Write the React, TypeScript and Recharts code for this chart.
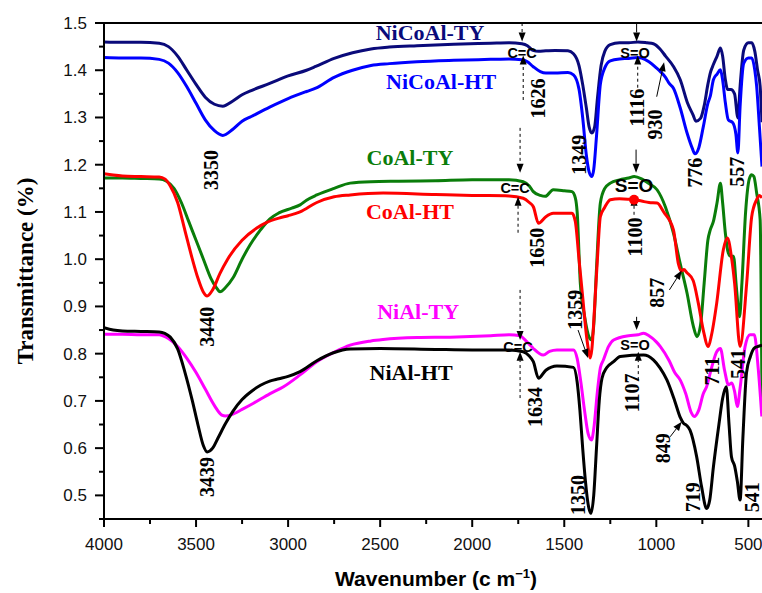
import React from 'react'
import { LineChart, Line, XAxis, YAxis, ReferenceLine, ReferenceDot, Label } from 'recharts'

const W = 762
const H = 593
const PLOT_LEFT = 104
const PLOT_BOTTOM = 519

const SANS = '"Liberation Sans", Arial, sans-serif'
const SERIF = '"Liberation Serif", "Times New Roman", serif'

// x ticks (cm-1), labels only on the 500 steps
const X_TICKS = [4000, 3750, 3500, 3250, 3000, 2750, 2500, 2250, 2000, 1750, 1500, 1250, 1000, 750, 500]
const Y_TICKS = [0.45, 0.5, 0.55, 0.6, 0.65, 0.7, 0.75, 0.8, 0.85, 0.9, 0.95, 1.0, 1.05, 1.1, 1.15, 1.2, 1.25, 1.3, 1.35, 1.4, 1.45, 1.5]

// spectra: [wavenumber, transmittance]
const NICOAL_TY: [number, number][] = [
  [4000, 1.46], [3900, 1.459], [3800, 1.459], [3700, 1.457], [3650, 1.45], [3600, 1.43], [3550, 1.4],
  [3500, 1.37], [3450, 1.343], [3400, 1.328], [3355, 1.324], [3300, 1.335], [3250, 1.348], [3200, 1.357],
  [3100, 1.372], [3000, 1.388], [2900, 1.4], [2850, 1.408], [2750, 1.425], [2650, 1.437], [2550, 1.445],
  [2450, 1.449], [2300, 1.452], [2100, 1.455], [1900, 1.457], [1800, 1.458], [1730, 1.456], [1700, 1.452],
  [1670, 1.442], [1640, 1.44], [1600, 1.441], [1550, 1.442], [1480, 1.441], [1450, 1.435], [1420, 1.41],
  [1400, 1.37], [1380, 1.32], [1365, 1.28], [1350, 1.267], [1335, 1.28], [1320, 1.34], [1300, 1.41],
  [1280, 1.44], [1250, 1.454], [1200, 1.458], [1150, 1.458], [1100, 1.46], [1050, 1.458], [1016, 1.456],
  [980, 1.445], [950, 1.43], [907, 1.408], [870, 1.38], [830, 1.33], [800, 1.305], [785, 1.292],
  [760, 1.298], [740, 1.325], [720, 1.37], [707, 1.394], [690, 1.412], [670, 1.43], [652, 1.447],
  [640, 1.43], [625, 1.38], [612, 1.359], [595, 1.359], [575, 1.35], [557, 1.299], [545, 1.366],
  [525, 1.443], [500, 1.458], [482, 1.458], [465, 1.44], [450, 1.40], [436, 1.366], [426, 1.29],
]

const NICOAL_HT: [number, number][] = [
  [4000, 1.427], [3900, 1.426], [3800, 1.426], [3700, 1.423], [3650, 1.415], [3600, 1.395], [3550, 1.365],
  [3500, 1.33], [3450, 1.295], [3400, 1.272], [3355, 1.262], [3300, 1.275], [3250, 1.292], [3200, 1.302],
  [3100, 1.322], [3000, 1.34], [2900, 1.355], [2850, 1.362], [2750, 1.385], [2650, 1.4], [2550, 1.41],
  [2450, 1.414], [2300, 1.418], [2100, 1.421], [1900, 1.423], [1800, 1.424], [1730, 1.422], [1700, 1.418],
  [1670, 1.408], [1630, 1.397], [1600, 1.394], [1550, 1.394], [1480, 1.395], [1450, 1.39], [1420, 1.36],
  [1400, 1.3], [1380, 1.22], [1365, 1.185], [1350, 1.175], [1340, 1.19], [1325, 1.26], [1304, 1.37],
  [1280, 1.405], [1250, 1.42], [1200, 1.424], [1150, 1.425], [1100, 1.427], [1080, 1.426], [1040, 1.418],
  [1000, 1.405], [978, 1.397], [950, 1.385], [930, 1.372], [907, 1.362], [870, 1.32], [833, 1.267],
  [805, 1.235], [790, 1.223], [770, 1.235], [745, 1.28], [720, 1.33], [707, 1.345], [690, 1.38],
  [670, 1.392], [652, 1.401], [640, 1.38], [625, 1.331], [609, 1.295], [585, 1.289], [568, 1.265],
  [557, 1.225], [545, 1.323], [525, 1.415], [500, 1.426], [482, 1.426], [465, 1.4], [455, 1.366],
  [440, 1.28], [426, 1.196],
]

const COAL_TY: [number, number][] = [
  [4000, 1.172], [3900, 1.172], [3800, 1.171], [3700, 1.17], [3660, 1.165], [3620, 1.15], [3580, 1.12],
  [3540, 1.08], [3500, 1.04], [3460, 1.0], [3420, 0.96], [3390, 0.94], [3370, 0.931], [3340, 0.94],
  [3300, 0.96], [3250, 1.0], [3207, 1.03], [3150, 1.062], [3100, 1.085], [3050, 1.098], [2980, 1.108],
  [2935, 1.115], [2900, 1.125], [2844, 1.136], [2750, 1.15], [2663, 1.161], [2550, 1.164], [2400, 1.165],
  [2200, 1.166], [2000, 1.168], [1800, 1.168], [1723, 1.164], [1690, 1.155], [1668, 1.143], [1630, 1.135],
  [1603, 1.133], [1560, 1.147], [1500, 1.145], [1458, 1.143], [1440, 1.13], [1430, 1.1], [1413, 0.95],
  [1390, 0.88], [1365, 0.835], [1351, 0.829], [1340, 0.86], [1325, 0.98], [1304, 1.119], [1280, 1.15],
  [1250, 1.161], [1200, 1.168], [1150, 1.172], [1120, 1.175], [1080, 1.17], [1040, 1.16], [996, 1.147],
  [950, 1.11], [907, 1.055], [870, 0.99], [833, 0.928], [800, 0.86], [779, 0.836], [760, 0.86],
  [740, 0.95], [720, 1.04], [707, 1.062], [690, 1.08], [670, 1.12], [652, 1.161], [640, 1.12],
  [625, 1.055], [609, 1.013], [595, 1.006], [581, 1.006], [565, 0.94], [548, 0.878], [535, 0.95],
  [515, 1.1], [495, 1.17], [482, 1.179], [470, 1.175], [455, 1.14], [436, 1.083], [430, 0.9], [426, 0.7],
]

const COAL_HT: [number, number][] = [
  [4000, 1.181], [3950, 1.178], [3900, 1.176], [3800, 1.175], [3700, 1.174], [3670, 1.17], [3640, 1.155],
  [3600, 1.12], [3560, 1.06], [3520, 1.0], [3490, 0.96], [3460, 0.93], [3440, 0.922], [3410, 0.935],
  [3370, 0.97], [3330, 0.999], [3250, 1.04], [3170, 1.066], [3116, 1.078], [3050, 1.087], [3000, 1.092],
  [2935, 1.1], [2844, 1.12], [2750, 1.132], [2663, 1.136], [2484, 1.14], [2200, 1.137], [2000, 1.135],
  [1800, 1.134], [1723, 1.129], [1690, 1.12], [1668, 1.111], [1640, 1.076], [1600, 1.09], [1560, 1.097],
  [1458, 1.097], [1440, 1.08], [1420, 1.0], [1400, 0.92], [1380, 0.84], [1365, 0.8], [1359, 0.791],
  [1350, 0.81], [1335, 0.9], [1320, 1.0], [1304, 1.09], [1280, 1.11], [1250, 1.126], [1200, 1.128],
  [1150, 1.127], [1120, 1.126], [1080, 1.123], [1040, 1.12], [996, 1.119], [960, 1.1], [907, 1.062],
  [880, 0.99], [865, 0.975], [850, 0.978], [835, 0.972], [800, 0.955], [772, 0.907], [745, 0.85],
  [718, 0.815], [700, 0.84], [672, 0.907], [636, 1.02], [614, 1.045], [590, 0.999], [575, 0.95],
  [545, 0.815], [509, 0.95], [482, 1.09], [455, 1.126], [440, 1.135], [426, 1.13],
]

const NIAL_TY: [number, number][] = [
  [4000, 0.841], [3900, 0.841], [3800, 0.84], [3700, 0.84], [3680, 0.838], [3650, 0.832], [3600, 0.815],
  [3550, 0.79], [3500, 0.76], [3450, 0.725], [3400, 0.69], [3360, 0.67], [3340, 0.668], [3300, 0.672],
  [3250, 0.682], [3188, 0.695], [3100, 0.715], [3025, 0.73], [2935, 0.755], [2844, 0.783], [2750, 0.803],
  [2663, 0.818], [2550, 0.827], [2484, 0.83], [2300, 0.834], [2120, 0.835], [1900, 0.838], [1800, 0.84],
  [1740, 0.838], [1723, 0.833], [1690, 0.82], [1668, 0.811], [1614, 0.797], [1580, 0.805], [1540, 0.808],
  [1450, 0.808], [1430, 0.79], [1410, 0.74], [1390, 0.68], [1370, 0.63], [1352, 0.617], [1340, 0.64],
  [1320, 0.72], [1304, 0.77], [1287, 0.787], [1260, 0.815], [1232, 0.829], [1150, 0.838], [1100, 0.84],
  [1069, 0.843], [1040, 0.838], [1000, 0.825], [978, 0.815], [930, 0.785], [900, 0.76], [870, 0.744],
  [840, 0.715], [810, 0.675], [795, 0.667], [770, 0.68], [745, 0.715], [727, 0.73], [700, 0.77],
  [672, 0.804], [652, 0.811], [630, 0.766], [608, 0.734], [590, 0.738], [575, 0.72], [560, 0.688],
  [545, 0.727], [518, 0.815], [491, 0.84], [468, 0.84], [446, 0.766], [427, 0.667],
]

const NIAL_HT: [number, number][] = [
  [4000, 0.855], [3950, 0.85], [3900, 0.848], [3800, 0.847], [3700, 0.846], [3670, 0.843], [3640, 0.835],
  [3600, 0.81], [3560, 0.76], [3520, 0.7], [3490, 0.65], [3460, 0.605], [3440, 0.592], [3410, 0.6],
  [3380, 0.622], [3340, 0.652], [3300, 0.678], [3250, 0.703], [3200, 0.72], [3150, 0.733], [3100, 0.742],
  [3050, 0.747], [3000, 0.752], [2935, 0.762], [2844, 0.785], [2754, 0.802], [2663, 0.81], [2500, 0.811],
  [2200, 0.809], [2000, 0.808], [1800, 0.808], [1723, 0.804], [1690, 0.795], [1668, 0.783], [1640, 0.748],
  [1600, 0.765], [1540, 0.774], [1450, 0.771], [1430, 0.74], [1415, 0.68], [1400, 0.6], [1385, 0.53],
  [1370, 0.48], [1355, 0.462], [1340, 0.5], [1325, 0.6], [1310, 0.7], [1295, 0.748], [1270, 0.77],
  [1232, 0.783], [1196, 0.794], [1069, 0.797], [1016, 0.787], [980, 0.77], [942, 0.744], [900, 0.7],
  [870, 0.665], [853, 0.653], [835, 0.648], [817, 0.638], [781, 0.582], [754, 0.518], [727, 0.472],
  [710, 0.49], [690, 0.56], [660, 0.65], [640, 0.705], [620, 0.73], [605, 0.65], [592, 0.582],
  [574, 0.561], [560, 0.53], [545, 0.49], [530, 0.62], [510, 0.76], [489, 0.794], [470, 0.811],
  [450, 0.815], [426, 0.818],
]

const SERIES = [
  { name: 'NiCoAl-TY', pts: NICOAL_TY, color: '#0a0a7a' },
  { name: 'NiCoAl-HT', pts: NICOAL_HT, color: '#0000ff' },
  { name: 'CoAl-TY', pts: COAL_TY, color: '#0a7d0a' },
  { name: 'CoAl-HT', pts: COAL_HT, color: '#ff0000' },
  { name: 'NiAl-TY', pts: NIAL_TY, color: '#ff00ff' },
  { name: 'NiAl-HT', pts: NIAL_HT, color: '#000000' },
]

// series name labels: [text, wavenumber, value, colour]
const NAME_LABELS: [string, number, number, string][] = [
  ['NiCoAl-TY', 2229, 1.479, '#0a0a7a'],
  ['NiCoAl-HT', 2169, 1.376, '#0000ff'],
  ['CoAl-TY', 2338, 1.215, '#0a7d0a'],
  ['CoAl-HT', 2338, 1.102, '#ff0000'],
  ['NiAl-TY', 2294, 0.89, '#ff00ff'],
  ['NiAl-HT', 2332, 0.761, '#000000'],
]

// peak positions written vertically
const PEAK_LABELS: [string, number, number][] = [
  ['3350', 3420, 1.189], ['3440', 3440, 0.857], ['3439', 3440, 0.539],
  ['1626', 1642, 1.34], ['1349', 1420, 1.221], ['1116', 1105, 1.321], ['930', 1007, 1.285],
  ['776', 790, 1.183], ['557', 561, 1.185], ['1650', 1648, 1.024], ['1100', 1116, 1.047],
  ['857', 996, 0.929], ['1359', 1441, 0.893], ['711', 697, 0.763], ['541', 556, 0.778],
  ['1634', 1659, 0.687], ['1107', 1132, 0.717], ['849', 963, 0.6], ['1350', 1425, 0.501],
  ['719', 800, 0.496], ['541', 480, 0.496],
]

// bond labels: [text, wavenumber, value, fontSize]
const BOND_LABELS: [string, number, number, number][] = [
  ['C=C', 1729, 1.437, 14.5], ['S=O', 1116, 1.437, 14.5],
  ['C=C', 1767, 1.151, 14.5], ['S=O', 1121, 1.157, 19],
  ['C=C', 1751, 0.814, 14.5], ['S=O', 1116, 0.818, 14.5],
]

// arrows: [tail w, tail v, tip w, tip v, dashed]
const ARROWS: [number, number, number, number, boolean][] = [
  [1729, 1.5, 1729, 1.461, true], [1723, 1.337, 1723, 1.431, true],
  [1740, 1.278, 1740, 1.183, true], [1751, 1.056, 1751, 1.132, true],
  [1740, 0.935, 1740, 0.829, true], [1740, 0.706, 1740, 0.804, true],
  [1107, 1.5, 1107, 1.461, false], [1101, 1.363, 1101, 1.431, true],
  [1110, 1.232, 1110, 1.183, false], [1121, 1.094, 1121, 1.132, true],
  [1107, 0.878, 1107, 0.85, false], [1098, 0.744, 1098, 0.804, true],
  [998, 1.344, 958, 1.417, false], [929, 0.935, 862, 0.976, false],
  [925, 0.624, 862, 0.656, false], [1425, 0.85, 1371, 0.791, false],
]

const toPts = (a: [number, number][]) => a.map(([w, v]) => ({ w, v }))

const XTick = (props: any) => {
  const { x, payload } = props
  const major = payload.value % 500 === 0
  return (
    <g>
      <line x1={x} y1={PLOT_BOTTOM} x2={x} y2={PLOT_BOTTOM + (major ? 8 : 5)} stroke="#000" strokeWidth={2} />
      {major && (
        <text x={x} y={550} textAnchor="middle" fontFamily={SANS} fontSize={17} fill="#111">
          {payload.value}
        </text>
      )}
    </g>
  )
}

const YTick = (props: any) => {
  const { y, payload } = props
  const v = payload.value
  const major = Math.abs(v * 10 - Math.round(v * 10)) < 1e-6
  return (
    <g>
      <line x1={PLOT_LEFT} y1={y} x2={PLOT_LEFT - (major ? 9 : 5)} y2={y} stroke="#000" strokeWidth={2} />
      {major && (
        <text x={87} y={y + 6} textAnchor="end" fontFamily={SANS} fontSize={17} fill="#111">
          {v.toFixed(1)}
        </text>
      )}
    </g>
  )
}

const arrowShape = (dashed: boolean) => (p: any) => {
  const { x1, y1, x2, y2 } = p
  const dx = x2 - x1
  const dy = y2 - y1
  const len = Math.sqrt(dx * dx + dy * dy) || 1
  const ux = dx / len
  const uy = dy / len
  const hl = 9
  const hw = 3.5
  const bx = x2 - ux * hl
  const by = y2 - uy * hl
  return (
    <g>
      <line x1={x1} y1={y1} x2={bx} y2={by} stroke="#000" strokeWidth={1} strokeDasharray={dashed ? '3 3' : undefined} />
      <polygon
        points={`${x2},${y2} ${bx - uy * hw},${by + ux * hw} ${bx + uy * hw},${by - ux * hw}`}
        fill="#000"
      />
    </g>
  )
}

export default function App() {
  return (
    <div style={{ position: 'absolute', left: 0, top: 0, width: W, height: H, background: '#fff' }}>
      <LineChart width={W} height={H} margin={{ top: 23, right: 0, left: 0, bottom: 0 }}>
        <XAxis
          type="number"
          dataKey="w"
          domain={[426, 4000]}
          reversed
          allowDataOverflow
          ticks={X_TICKS}
          interval={0}
          height={H - PLOT_BOTTOM}
          axisLine={{ stroke: '#000', strokeWidth: 2 }}
          tickLine={false}
          tick={<XTick />}
        >
          <Label
            content={() => (
              <text x={436} y={586} textAnchor="middle" fontFamily={SANS} fontWeight="bold" fontSize={21} fill="#000">
                Wavenumber (c m
                <tspan dy={-8} fontSize={13}>−1</tspan>
                <tspan dy={8}>)</tspan>
              </text>
            )}
          />
        </XAxis>
        <YAxis
          type="number"
          domain={[0.45, 1.5]}
          allowDataOverflow
          ticks={Y_TICKS}
          interval={0}
          width={PLOT_LEFT}
          axisLine={{ stroke: '#000', strokeWidth: 2 }}
          tickLine={false}
          tick={<YTick />}
        >
          <Label
            content={() => (
              <text
                x={33}
                y={271}
                transform="rotate(-90 33 271)"
                textAnchor="middle"
                fontFamily={SERIF}
                fontWeight="bold"
                fontSize={23}
                fill="#000"
              >
                Transmittance (%)
              </text>
            )}
          />
        </YAxis>
        <ReferenceLine y={1.5} stroke="#000" strokeWidth={2} ifOverflow="visible" />

        {SERIES.map((s) => (
          <Line
            key={s.name}
            data={toPts(s.pts)}
            dataKey="v"
            name={s.name}
            type="monotone"
            stroke={s.color}
            strokeWidth={3}
            dot={false}
            activeDot={false}
            isAnimationActive={false}
          />
        ))}

        {ARROWS.map(([tw, tv, hw, hv, dashed], i) => (
          <ReferenceLine
            key={'a' + i}
            segment={[{ x: tw, y: tv }, { x: hw, y: hv }]}
            ifOverflow="visible"
            shape={arrowShape(dashed)}
          />
        ))}

        <ReferenceDot x={1121} y={1.126} r={5} fill="#ff0000" stroke="none" ifOverflow="visible" />

        {NAME_LABELS.map(([t, w, v, c]) => (
          <ReferenceDot
            key={t}
            x={w}
            y={v}
            r={0}
            ifOverflow="visible"
            shape={(p: any) => (
              <text x={p.cx} y={p.cy} textAnchor="middle" dominantBaseline="central" fontFamily={SERIF} fontWeight="bold" fontSize={22} fill={c}>
                {t}
              </text>
            )}
          />
        ))}

        {PEAK_LABELS.map(([t, w, v], i) => (
          <ReferenceDot
            key={'p' + i}
            x={w}
            y={v}
            r={0}
            ifOverflow="visible"
            shape={(p: any) => (
              <text
                x={p.cx}
                y={p.cy}
                transform={`rotate(-90 ${p.cx} ${p.cy})`}
                textAnchor="middle"
                dominantBaseline="central"
                fontFamily={SERIF}
                fontWeight="bold"
                fontSize={20}
                fill="#000"
              >
                {t}
              </text>
            )}
          />
        ))}

        {BOND_LABELS.map(([t, w, v, fs], i) => (
          <ReferenceDot
            key={'b' + i}
            x={w}
            y={v}
            r={0}
            ifOverflow="visible"
            shape={(p: any) => (
              <text x={p.cx} y={p.cy} textAnchor="middle" dominantBaseline="central" fontFamily={SANS} fontWeight="bold" fontSize={fs} fill="#000">
                {t}
              </text>
            )}
          />
        ))}
      </LineChart>
    </div>
  )
}
